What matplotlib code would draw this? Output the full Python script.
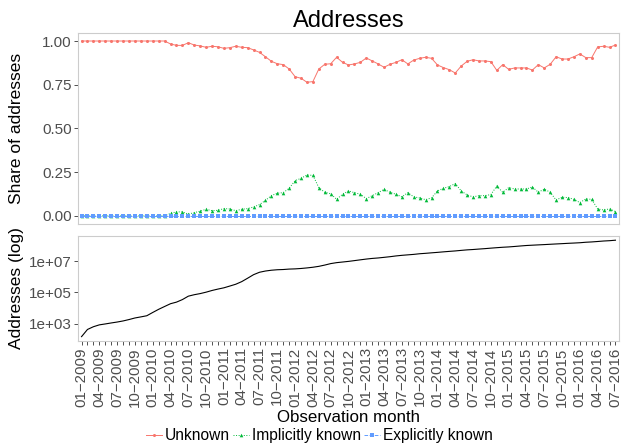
import matplotlib
matplotlib.use("Agg")
import matplotlib.pyplot as plt
from matplotlib.lines import Line2D
import numpy as np

plt.rcParams['font.family'] = ['Liberation Sans', 'DejaVu Sans']

# months 01-2009 .. 07-2016
months = [f"{m:02d}\u2212{y}" for y in range(2009, 2017) for m in range(1, 13)][:91]

unknown = [1.00] * 15 + [
    0.983, 0.975, 0.975, 0.990, 0.977, 0.972, 0.964, 0.970,
    0.967, 0.958, 0.962, 0.970, 0.964, 0.962, 0.949, 0.935, 0.910, 0.884,
    0.870, 0.865, 0.840, 0.796, 0.787, 0.764, 0.768, 0.840, 0.867, 0.870,
    0.907, 0.878, 0.863,
    0.869, 0.878, 0.903, 0.886, 0.869, 0.850, 0.867, 0.878, 0.893, 0.869,
    0.891, 0.901, 0.907, 0.901, 0.863, 0.848, 0.836, 0.817, 0.857, 0.884,
    0.893, 0.886,
    0.886, 0.882, 0.832, 0.865, 0.838, 0.846, 0.846, 0.846, 0.834, 0.865,
    0.846, 0.867, 0.910, 0.897, 0.897, 0.910, 0.926, 0.905, 0.905, 0.966,
    0.970, 0.964, 0.977]

implicit = [0.0] * 15 + [
    0.015, 0.023, 0.023, 0.010, 0.019, 0.027, 0.038, 0.030,
    0.032, 0.042, 0.040, 0.030, 0.038, 0.042, 0.051, 0.065, 0.089, 0.116,
    0.130, 0.133, 0.158, 0.202, 0.215, 0.234, 0.232, 0.162, 0.135, 0.127,
    0.095, 0.124, 0.143,
    0.133, 0.124, 0.099, 0.116, 0.133, 0.152, 0.135, 0.124, 0.109, 0.133,
    0.109, 0.103, 0.093, 0.103, 0.143, 0.158, 0.168, 0.185, 0.143, 0.120,
    0.109, 0.116,
    0.116, 0.122, 0.171, 0.135, 0.162, 0.154, 0.154, 0.154, 0.166, 0.135,
    0.154, 0.135, 0.091, 0.107, 0.105, 0.095, 0.076, 0.097, 0.095, 0.040,
    0.034, 0.040, 0.025]

explicit = [0.0] * 91

addresses = [
    1.45e2, 4.2e2, 6.3e2, 8.3e2, 9.5e2, 1.1e3, 1.26e3, 1.48e3, 1.82e3, 2.3e3,
    2.7e3, 3.2e3, 5.2e3, 8.3e3, 1.26e4, 1.9e4, 2.4e4, 3.5e4, 5.8e4, 7.2e4,
    8.5e4, 1.05e5, 1.35e5, 1.66e5, 2.0e5, 2.6e5, 3.4e5, 5.0e5, 8.3e5, 1.4e6,
    2.0e6, 2.4e6, 2.7e6, 2.9e6, 3.0e6, 3.2e6, 3.3e6, 3.5e6, 3.8e6, 4.2e6,
    4.8e6, 5.8e6, 7.2e6, 8.3e6, 9.1e6, 1.0e7, 1.12e7, 1.26e7, 1.41e7, 1.55e7,
    1.66e7, 1.82e7, 2.0e7, 2.24e7, 2.45e7, 2.63e7, 2.82e7, 3.1e7, 3.3e7, 3.55e7,
    3.8e7, 4.1e7, 4.4e7, 4.7e7, 5.1e7, 5.5e7, 5.8e7, 6.2e7, 6.6e7, 7.1e7,
    7.6e7, 8.1e7, 8.5e7, 9.1e7, 9.8e7, 1.05e8, 1.1e8, 1.15e8, 1.2e8, 1.26e8,
    1.32e8, 1.38e8, 1.45e8, 1.51e8, 1.58e8, 1.7e8, 1.78e8, 1.9e8, 2.04e8, 2.14e8,
    2.3e8]

red, green, blue = '#F8766D', '#00BA38', '#619CFF'
x = np.arange(len(months))

fig = plt.figure(figsize=(6.33, 4.43), dpi=100)
ax1 = fig.add_axes([0.1232, 0.4944, 0.8547, 0.4312])
ax2 = fig.add_axes([0.1232, 0.2302, 0.8547, 0.2370])

ax1.plot(x, unknown, color=red, lw=0.7, marker='o', ms=2.2, mew=0)
ax1.plot(x, implicit, color=green, lw=0.7, ls=':', marker='^', ms=2.6, mew=0)
ax1.plot(x, explicit, color=blue, lw=0.7, ls='--', marker='s', ms=2.3, mew=0)
ax1.set_ylim(-0.046, 1.046)
ax1.set_yticks([0, 0.25, 0.5, 0.75, 1.0])
ax1.set_yticklabels(['0.00', '0.25', '0.50', '0.75', '1.00'])
ax1.set_xticks([])
ax1.set_ylabel('Share of addresses', fontsize=12.5)
ax1.set_title('Addresses', fontsize=17, pad=4)

ax2.plot(x, addresses, color='black', lw=0.8)
ax2.set_yscale('log')
ax2.set_ylim(10 ** 1.88, 10 ** 8.63)
ax2.set_yticks([1e3, 1e5, 1e7])
ax2.set_yticklabels(['1e+03', '1e+05', '1e+07'])
ax2.minorticks_off()
ax2.set_xticks(x)
ax2.set_xticklabels([m if i % 3 == 0 else '' for i, m in enumerate(months)],
                    rotation=90, fontsize=10.8)
ax2.set_xlabel('Observation month', fontsize=12.2)
ax2.xaxis.set_label_coords(0.5, -0.655)
ax2.set_ylabel('Addresses (log)', fontsize=12.5)

for ax in (ax1, ax2):
    ax.set_xlim(-0.6, len(months) - 0.4)
    ax.yaxis.set_label_coords(-0.1, 0.5)
    for s in ax.spines.values():
        s.set_color('#cccccc')
        s.set_linewidth(0.8)
    ax.tick_params(axis='y', length=3, width=0.6, color='#333333',
                   labelcolor='#4d4d4d', labelsize=11, pad=1.5)
    ax.tick_params(axis='x', length=3, width=0.6, color='#333333',
                   labelcolor='#4d4d4d', pad=1.5)

handles = [
    Line2D([], [], color=red, lw=0.7, marker='o', ms=2.2, mew=0),
    Line2D([], [], color=green, lw=0.7, ls=':', marker='^', ms=2.6, mew=0),
    Line2D([], [], color=blue, lw=0.7, ls='--', marker='s', ms=2.3, mew=0),
]
fig.legend(handles, ['Unknown', 'Implicitly known', 'Explicitly known'],
           loc='center', bbox_to_anchor=(0.505, 0.017), ncol=3, frameon=False,
           fontsize=11.2, handlelength=1.0, handletextpad=0.2,
           columnspacing=0.2, borderpad=0)

fig.savefig('out.png', dpi=100)
